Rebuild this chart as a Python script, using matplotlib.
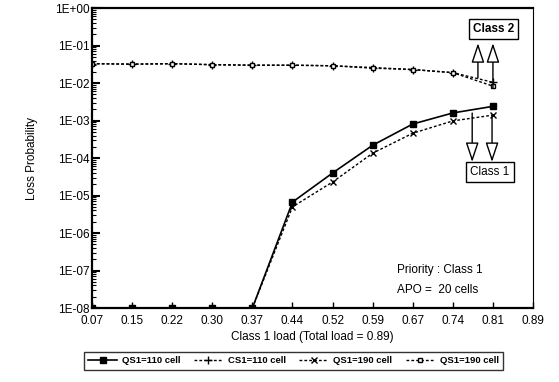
import numpy as np
import matplotlib.pyplot as plt

plt.rcParams['font.family'] = ['Liberation Sans', 'DejaVu Sans']

# x categories (class 1 load) and tick labels
loads = ['0.07', '0.15', '0.22', '0.30', '0.37', '0.44', '0.52', '0.59',
         '0.67', '0.74', '0.81', '0.89']

# loss probabilities (one value per load 0.07 .. 0.81)
c1_qs110 = [1e-8, 1e-8, 1e-8, 1e-8, 1e-8, 6.7e-6, 4.0e-5, 2.2e-4, 8.1e-4, 1.6e-3, 2.4e-3]
c2_qs110 = [3.3e-2, 3.2e-2, 3.3e-2, 3.1e-2, 3.0e-2, 3.0e-2, 2.9e-2, 2.6e-2, 2.3e-2, 1.9e-2, 1.05e-2]
c1_qs190 = [1e-8, 1e-8, 1e-8, 1e-8, 1e-8, 5.0e-6, 2.3e-5, 1.35e-4, 4.6e-4, 9.8e-4, 1.4e-3]
c2_qs190 = [3.3e-2, 3.2e-2, 3.3e-2, 3.1e-2, 3.0e-2, 3.0e-2, 2.9e-2, 2.5e-2, 2.3e-2, 1.9e-2, 8.3e-3]

y_ticks = [1e-8, 1e-7, 1e-6, 1e-5, 1e-4, 1e-3, 1e-2, 1e-1, 1e0]
y_labels = ['1E-08', '1E-07', '1E-06', '1E-05', '1E-04', '1E-03', '1E-02', '1E-01', '1E+00']

fig = plt.figure(figsize=(5.59, 3.82), dpi=100)
ax = fig.add_axes([0.1646, 0.1937, 0.789, 0.785])

x = np.arange(len(c1_qs110))
dash = (0, (2, 1.5))
ax.plot(x, c1_qs110, color='black', lw=1.2, marker='s', ms=4, label='QS1=110 cell', zorder=5)
ax.plot(x, c2_qs110, color='black', lw=1.0, ls=dash, marker='+', ms=6, label='CS1=110 cell')
ax.plot(x, c1_qs190, color='black', lw=1.0, ls=dash, marker='x', ms=5, label='QS1=190 cell')
ax.plot(x, c2_qs190, color='black', lw=1.0, ls=dash, marker='s', ms=3.5, mfc='white',
        label='QS1=190 cell')

ax.set_yscale('log')
ax.set_ylim(1e-8, 1)
ax.set_xlim(0, len(loads) - 1)
ax.set_xticks(np.arange(len(loads)))
ax.set_xticklabels(loads, fontsize=8.5)
ax.set_yticks(y_ticks)
ax.set_yticklabels(y_labels, fontsize=8.5)
ax.tick_params(axis='both', direction='in', length=4, width=1, pad=2)
ax.tick_params(axis='x', pad=5)
ax.tick_params(axis='y', which='minor', direction='in', length=3, width=0.8)
ax.tick_params(axis='y', which='major', length=6, width=1.5)
for side in ['left', 'bottom', 'top']:
    ax.spines[side].set_linewidth(1.6)
ax.spines['right'].set_linewidth(0.8)

ax.set_xlabel('Class 1 load (Total load = 0.89)', fontsize=8.5, labelpad=3)
ax.set_ylabel('Loss Probability', fontsize=8.5, labelpad=12)

# class boxes with open arrows
box = dict(boxstyle='square,pad=0.35', fc='white', ec='black', lw=1.0)
ax.text(0.91, 0.93, 'Class 2', transform=ax.transAxes, fontsize=8.5,
        ha='center', va='center', bbox=box, fontweight='bold')
ax.text(0.902, 0.453, 'Class 1', transform=ax.transAxes, fontsize=8.5,
        ha='center', va='center', bbox=box)
arrow = dict(arrowstyle='-|>,head_length=1.2,head_width=0.4', fc='white', ec='black',
             lw=1.0, shrinkA=0, shrinkB=0)
for xa, y0 in [(0.875, 0.767), (0.909, 0.733)]:
    ax.annotate('', xy=(xa, 0.883), xytext=(xa, y0), xycoords='axes fraction',
                arrowprops=arrow)
for xa, y0 in [(0.862, 0.65), (0.907, 0.643)]:
    ax.annotate('', xy=(xa, 0.487), xytext=(xa, y0), xycoords='axes fraction',
                arrowprops=arrow)

ax.text(0.692, 0.127, 'Priority : Class 1', transform=ax.transAxes, fontsize=8.5,
        va='center')
ax.text(0.692, 0.06, 'APO =  20 cells', transform=ax.transAxes, fontsize=8.5,
        va='center')

leg = fig.legend(loc='lower center', bbox_to_anchor=(0.525, 0.02), ncol=4,
                 prop={'size': 6.8, 'weight': 'bold'}, frameon=True, fancybox=False,
                 handlelength=3.0, columnspacing=1.4, handletextpad=0.6, borderpad=0.45)
leg.get_frame().set_edgecolor('black')
leg.get_frame().set_linewidth(1.0)

fig.savefig('out.png', dpi=100)
